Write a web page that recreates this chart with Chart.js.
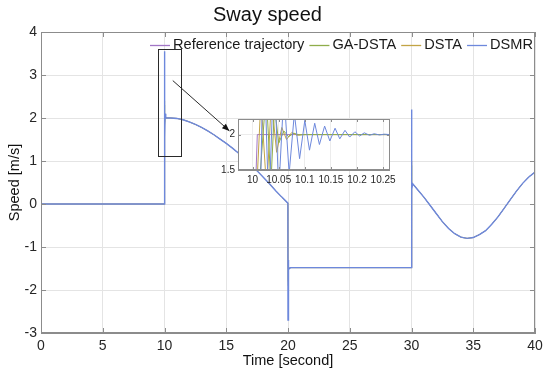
<!DOCTYPE html>
<html>
<head>
<meta charset="utf-8">
<script src="https://cdn.jsdelivr.net/npm/chart.js@4.4.1/dist/chart.umd.min.js"></script>
<style>
  html, body { margin: 0; padding: 0; background: #fff; }
  #wrap { position: relative; width: 550px; height: 377px; }
  #mainChart { position: absolute; left: 0; top: 0; }
  #zoomChart { position: absolute; left: 215px; top: 110px; }
</style>
</head>
<body>
<div id="wrap">
  <canvas id="mainChart" width="550" height="377"></canvas>
  <canvas id="zoomChart" width="185" height="80"></canvas>
</div>
<script>
// ---- data ----
const seriesNames = ["Reference trajectory", "GA-DSTA", "DSTA", "DSMR"];

const mainTime = [0, 9.99, 10, 10.02, 10.05, 10.1, 10.5, 11, 11.5, 12, 12.5, 13, 13.5, 14, 14.5,
  15, 15.5, 16, 16.5, 17, 17.5, 18, 18.5, 19, 19.5, 19.99, 20, 20.02, 20.06, 20.2, 25, 29.99,
  30, 30.03, 30.1, 30.5, 31, 31.5, 32, 32.5, 33, 33.5, 34, 34.5, 35, 35.5, 36, 36.5, 37, 37.5,
  38, 38.5, 39, 39.5, 40];

const dsmrMain = [0, 0, 3.55, 1.55, 2.1, 2.0, 2.0, 1.99, 1.96, 1.91, 1.85, 1.78, 1.70, 1.61, 1.51,
  1.41, 1.30, 1.18, 1.05, 0.91, 0.77, 0.62, 0.47, 0.31, 0.16, 0.02, -2.7, -1.3, -1.52, -1.48, -1.48, -1.48,
  2.2, 0.35, 0.47, 0.33, 0.16, -0.03, -0.22, -0.41, -0.57, -0.69, -0.77, -0.80, -0.78, -0.71, -0.62, -0.47, -0.30, -0.10,
  0.10, 0.30, 0.48, 0.63, 0.74];

const refMain = [0, 0, 2.0, 2.0, 2.0, 2.0, 2.0, 1.99, 1.96, 1.91, 1.85, 1.78, 1.70, 1.61, 1.51,
  1.41, 1.30, 1.18, 1.05, 0.91, 0.77, 0.62, 0.47, 0.31, 0.16, 0.02, -1.5, -1.5, -1.5, -1.48, -1.48, -1.48,
  0.5, 0.49, 0.47, 0.33, 0.16, -0.03, -0.22, -0.41, -0.57, -0.69, -0.77, -0.80, -0.78, -0.71, -0.62, -0.47, -0.30, -0.10,
  0.10, 0.30, 0.48, 0.63, 0.74];

const gaMain = [0, 0, 2.3, 1.9, 2.0, 2.0, 2.0, 1.99, 1.96, 1.91, 1.85, 1.78, 1.70, 1.61, 1.51,
  1.41, 1.30, 1.18, 1.05, 0.91, 0.77, 0.62, 0.47, 0.31, 0.16, 0.02, -1.8, -1.45, -1.5, -1.48, -1.48, -1.48,
  0.9, 0.45, 0.47, 0.33, 0.16, -0.03, -0.22, -0.41, -0.57, -0.69, -0.77, -0.80, -0.78, -0.71, -0.62, -0.47, -0.30, -0.10,
  0.10, 0.30, 0.48, 0.63, 0.74];

const dstaMain = [0, 0, 2.4, 1.85, 2.02, 2.0, 2.0, 1.99, 1.96, 1.91, 1.85, 1.78, 1.70, 1.61, 1.51,
  1.41, 1.30, 1.18, 1.05, 0.91, 0.77, 0.62, 0.47, 0.31, 0.16, 0.02, -1.9, -1.42, -1.5, -1.48, -1.48, -1.48,
  1.0, 0.43, 0.47, 0.33, 0.16, -0.03, -0.22, -0.41, -0.57, -0.69, -0.77, -0.80, -0.78, -0.71, -0.62, -0.47, -0.30, -0.10,
  0.10, 0.30, 0.48, 0.63, 0.74];

// zoomed window around t = 10 s
const refZoomTime = [10.0, 10.009, 10.263];
const refZoom = [0, 2.0, 2.0];

const gaZoomTime = [10.0, 10.026, 10.035, 10.042, 10.050, 10.060, 10.069, 10.079, 10.089, 10.1, 10.263];
const gaZoom = [0, 2.6, 1.3, 2.4, 1.88, 2.05, 1.97, 2.02, 1.995, 2.0, 2.0];

const dstaZoomTime = [10.0, 10.016, 10.027, 10.036, 10.046, 10.056, 10.065, 10.075, 10.085, 10.095, 10.263];
const dstaZoom = [0, 2.5, 1.2, 2.5, 1.75, 2.1, 1.93, 2.03, 1.99, 2.0, 2.0];

const dsmrZoomTime = [10.005, 10.012, 10.021, 10.031, 10.041, 10.050, 10.060, 10.070, 10.080, 10.090,
  10.100, 10.109, 10.119, 10.128, 10.138, 10.148, 10.158, 10.167, 10.177, 10.186, 10.196,
  10.205, 10.214, 10.224, 10.233, 10.243, 10.252, 10.263];
const dsmrZoom = [0, 0, 3.4, 0.9, 3.0, 1.2, 2.6, 1.45, 2.3, 1.66,
  2.2, 1.78, 2.16, 1.86, 2.12, 1.91, 2.09, 1.94, 2.06, 1.965, 2.04,
  1.98, 2.025, 1.99, 2.012, 1.995, 2.006, 2.0];

// ---- styling ----
const colors = {
  ref: "#a276c6",
  ga: "#8fad4a",
  dsta: "#c2a445",
  dsmr: "#6d88dc"
};
const FONT = '"Liberation Sans", Arial, Helvetica, sans-serif';
const axisColor = "#8c8c8c";
const gridColor = "#e4e4e4";

function pts(xs, ys) {
  return xs.map((t, i) => ({ x: t, y: ys[i] }));
}

// box around plot area plus inward tick marks, matlab style
const framePlugin = {
  id: "frame",
  afterDatasetsDraw(chart, args, opts) {
    const { ctx, chartArea: a, scales } = chart;
    const len = opts.tick || 5;
    ctx.save();
    ctx.strokeStyle = axisColor;
    ctx.lineWidth = 1;
    ctx.strokeRect(Math.round(a.left) + 0.5, Math.round(a.top) + 0.5,
      Math.round(a.right - a.left) - 1, Math.round(a.bottom - a.top) - 1);
    ctx.beginPath();
    scales.x.ticks.forEach(tk => {
      const px = Math.round(scales.x.getPixelForValue(tk.value)) + 0.5;
      ctx.moveTo(px, a.bottom); ctx.lineTo(px, a.bottom - len);
      ctx.moveTo(px, a.top); ctx.lineTo(px, a.top + len);
    });
    scales.y.ticks.forEach(tk => {
      const py = Math.round(scales.y.getPixelForValue(tk.value)) + 0.5;
      ctx.moveTo(a.left, py); ctx.lineTo(a.left + len, py);
      ctx.moveTo(a.right, py); ctx.lineTo(a.right - len, py);
    });
    ctx.stroke();
    ctx.restore();
  }
};

// legend sits inside the axes, top right, no box
const insideLegend = {
  id: "insideLegend",
  afterDraw(chart, args, opts) {
    const ctx = chart.ctx;
    const items = chart.data.datasets;
    ctx.save();
    ctx.font = "14.6px " + FONT;
    ctx.textBaseline = "middle";
    let total = opts.itemGap * (items.length - 1);
    items.forEach(d => { total += opts.lineLen + opts.gap + ctx.measureText(d.label).width; });
    let x = opts.right - total;
    items.forEach(d => {
      ctx.strokeStyle = d.borderColor;
      ctx.lineWidth = 1.3;
      ctx.beginPath();
      ctx.moveTo(x, opts.y + 0.5);
      ctx.lineTo(x + opts.lineLen, opts.y + 0.5);
      ctx.stroke();
      x += opts.lineLen + opts.gap;
      ctx.fillStyle = "#1a1a1a";
      ctx.fillText(d.label, x, opts.y);
      x += ctx.measureText(d.label).width + opts.itemGap;
    });
    ctx.restore();
  }
};

// rectangle around the zoomed region and the arrow to the inset
const zoomMarks = {
  id: "zoomMarks",
  afterDatasetsDraw(chart, args, opts) {
    const { ctx, scales: { x, y } } = chart;
    const [x0, x1, y0, y1] = opts.box;
    const l = Math.round(x.getPixelForValue(x0)) + 0.5;
    const r = Math.round(x.getPixelForValue(x1)) + 0.5;
    const t = Math.round(y.getPixelForValue(y1)) + 0.5;
    const b = Math.round(y.getPixelForValue(y0)) + 0.5;
    ctx.save();
    ctx.strokeStyle = "#2a2a2a";
    ctx.lineWidth = 1;
    ctx.strokeRect(l, t, r - l, b - t);

    const ax0 = x.getPixelForValue(opts.from[0]), ay0 = y.getPixelForValue(opts.from[1]);
    const ax1 = x.getPixelForValue(opts.to[0]), ay1 = y.getPixelForValue(opts.to[1]);
    ctx.beginPath();
    ctx.moveTo(ax0, ay0);
    ctx.lineTo(ax1, ay1);
    ctx.stroke();
    const ang = Math.atan2(ay1 - ay0, ax1 - ax0);
    ctx.beginPath();
    ctx.moveTo(ax1, ay1);
    ctx.lineTo(ax1 - 8 * Math.cos(ang - 0.38), ay1 - 8 * Math.sin(ang - 0.38));
    ctx.lineTo(ax1 - 8 * Math.cos(ang + 0.38), ay1 - 8 * Math.sin(ang + 0.38));
    ctx.closePath();
    ctx.fillStyle = "#111";
    ctx.fill();
    ctx.restore();
  }
};

// inset axes get a white background only inside the plot area
const whiteArea = {
  id: "whiteArea",
  beforeDraw(chart) {
    const { ctx, chartArea: a } = chart;
    ctx.save();
    ctx.fillStyle = "#fff";
    ctx.fillRect(a.left, a.top, a.right - a.left, a.bottom - a.top);
    ctx.restore();
  }
};

function lineSet(label, data, color, order, width) {
  return {
    label: label,
    data: data,
    borderColor: color,
    backgroundColor: color,
    borderWidth: width,
    pointRadius: 0,
    tension: 0,
    fill: false,
    order: order
  };
}

// 1. main axes (the three controllers lie under DSMR here)
new Chart(document.getElementById("mainChart"), {
  type: "line",
  data: {
    datasets: [
      lineSet(seriesNames[0], pts(mainTime, refMain), colors.ref, 3, 0.6),
      lineSet(seriesNames[1], pts(mainTime, gaMain), colors.ga, 2, 0.6),
      lineSet(seriesNames[2], pts(mainTime, dstaMain), colors.dsta, 1, 0.6),
      lineSet(seriesNames[3], pts(mainTime, dsmrMain), colors.dsmr, 0, 1.4)
    ]
  },
  options: {
    responsive: false,
    animation: false,
    events: [],
    layout: { padding: { left: 0, right: 15, top: 0, bottom: 0 } },
    plugins: {
      legend: { display: false },
      tooltip: { enabled: false },
      title: {
        display: true,
        text: "Sway speed",
        color: "#111",
        font: { family: FONT, size: 20, weight: "normal" },
        padding: { top: 3, bottom: 5 }
      },
      insideLegend: { right: 533, y: 45, lineLen: 20, gap: 3, itemGap: 5 },
      zoomMarks: { box: [9.45, 11.3, 1.12, 3.6], from: [10.67, 2.87], to: [15.26, 1.7] },
      frame: { tick: 5 }
    },
    scales: {
      x: {
        type: "linear",
        min: 0, max: 40,
        afterFit(scale) { scale.height = 44; },
        ticks: { stepSize: 5, color: "#262626", padding: 5, maxRotation: 0, font: { family: FONT, size: 14 } },
        grid: { color: gridColor, drawTicks: false },
        border: { color: axisColor },
        title: {
          display: true, text: "Time [second]", color: "#111",
          font: { family: FONT, size: 14.5 }, padding: { top: 0, bottom: 7 }
        }
      },
      y: {
        type: "linear",
        min: -3, max: 4,
        afterFit(scale) { scale.width = 41; },
        ticks: { stepSize: 1, color: "#262626", padding: 4, font: { family: FONT, size: 14 } },
        grid: { color: gridColor, drawTicks: false },
        border: { color: axisColor },
        title: {
          display: true, text: "Speed [m/s]", color: "#111",
          font: { family: FONT, size: 14.5 }, padding: { top: 6, bottom: 0 }
        }
      }
    }
  },
  plugins: [insideLegend, zoomMarks, framePlugin]
});

// 2. inset axes (zoom on the t = 10 s transient)
new Chart(document.getElementById("zoomChart"), {
  type: "line",
  data: {
    datasets: [
      lineSet(seriesNames[0], pts(refZoomTime, refZoom), colors.ref, 3, 1),
      lineSet(seriesNames[1], pts(gaZoomTime, gaZoom), colors.ga, 1, 1),
      lineSet(seriesNames[2], pts(dstaZoomTime, dstaZoom), colors.dsta, 2, 1),
      lineSet(seriesNames[3], pts(dsmrZoomTime, dsmrZoom), colors.dsmr, 0, 1)
    ]
  },
  options: {
    responsive: false,
    animation: false,
    events: [],
    layout: { padding: { left: 0, right: 9, top: 5, bottom: 0 } },
    plugins: {
      legend: { display: false },
      tooltip: { enabled: false },
      frame: { tick: 3 }
    },
    scales: {
      x: {
        type: "linear",
        min: 9.972, max: 10.263,
        afterFit(scale) { scale.height = 20; },
        ticks: {
          stepSize: 0.05, includeBounds: false, color: "#262626", padding: 4,
          maxRotation: 0, minRotation: 0, autoSkip: false,
          font: { family: FONT, size: 10 },
          callback: v => String(+v.toFixed(2))
        },
        grid: { color: "#ececec", drawTicks: false },
        border: { color: axisColor }
      },
      y: {
        type: "linear",
        min: 1.5, max: 2.22,
        afterFit(scale) { scale.width = 23; },
        ticks: {
          stepSize: 0.5, includeBounds: false, color: "#262626", padding: 3,
          font: { family: FONT, size: 10 },
          callback: v => String(+v.toFixed(2))
        },
        grid: { color: "#ececec", drawTicks: false },
        border: { color: axisColor }
      }
    }
  },
  plugins: [whiteArea, framePlugin]
});
</script>
</body>
</html>
